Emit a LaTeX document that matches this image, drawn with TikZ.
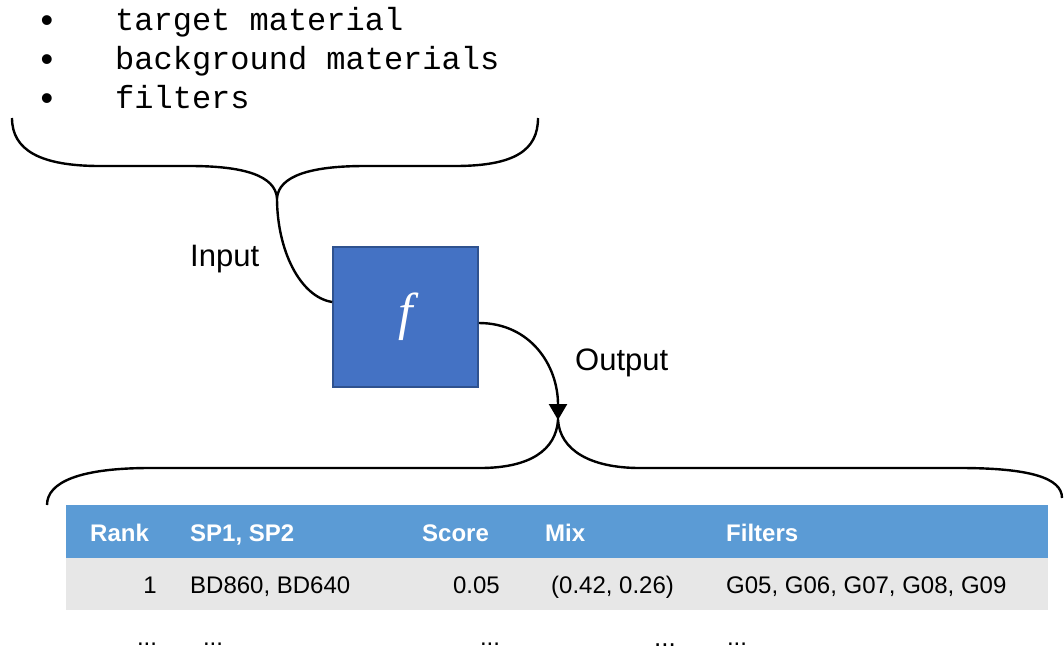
\documentclass[tikz,border=0pt]{standalone}
\usepackage{fontspec}
\setmainfont{Liberation Sans}
\newfontfamily\codefont{Liberation Mono}
\newfontfamily\funcfont{Liberation Serif}
\usetikzlibrary{arrows.meta}
\definecolor{funcfill}{HTML}{4472C4}
\definecolor{funcedge}{HTML}{2F528F}
\definecolor{headblue}{HTML}{5B9BD5}
\definecolor{rowgray}{HTML}{E7E7E7}
\begin{document}
\begin{tikzpicture}[x=1pt,y=-1pt,
  codeline/.style={font=\codefont\fontsize{32}{38}\selectfont, anchor=base west, inner sep=0},
  bullet/.style={font=\fontsize{36}{40}\selectfont, anchor=base, inner sep=0},
  lbl/.style={font=\fontsize{31}{36}\selectfont, anchor=base west, inner sep=0},
  headcell/.style={font=\bfseries\fontsize{24}{28}\selectfont, text=white, anchor=base west, inner sep=0},
  cell/.style={font=\fontsize{24}{28}\selectfont, anchor=base west, inner sep=0},
  cellr/.style={cell, anchor=base east},
  dots/.style={font=\fontsize{24}{28}\selectfont, anchor=base, inner sep=0},
  curve/.style={line width=2.4pt, black},
  funcbox/.style={fill=funcfill, draw=funcedge, line width=1.6pt, minimum width=145pt,
    minimum height=140pt, inner sep=0, text=white, font=\funcfont\itshape\fontsize{52}{56}\selectfont}]
\useasboundingbox (0,0) rectangle (1064,651);

% input list
\node[bullet] (b1) at (47,32) {•};
\node[bullet] (b2) at (47,71) {•};
\node[bullet] (b3) at (47,110) {•};
\node[codeline] (l1) at (115,30) {target material};
\node[codeline] (l2) at (115,69) {background materials};
\node[codeline] (l3) at (115,108) {filters};

% upper brace
\coordinate (tipA) at (277,198);
\draw[curve] (12,118) .. controls (12,150) and (40,166) .. (100,166) -- (190,166)
  .. controls (245,166) and (275,176) .. (tipA)
  .. controls (279,176) and (310,166) .. (365,166) -- (455,166)
  .. controls (515,166) and (538,150) .. (538,118);

% function block
\node[funcbox] (f) at (405.5,317) {f};

\node[lbl] (inlbl) at (190,266) {Input};
\node[lbl] (outlbl) at (575,370) {Output};

\draw[curve] (tipA) .. controls (277,250) and (300,297) .. ([yshift=15pt]f.west);
\coordinate (tipB) at (558,420);
\draw[curve, -{Triangle[width=18pt,length=16pt]}] ([yshift=-6pt]f.east)
  .. controls (530,323) and (558,365) .. (tipB);

% lower brace
\draw[curve] (47,505) .. controls (47,482) and (80,468) .. (150,468) -- (480,468)
  .. controls (530,468) and (556,450) .. (tipB)
  .. controls (560,450) and (590,468) .. (640,468) -- (960,468)
  .. controls (1030,468) and (1062,478) .. (1062,498);

% result table
\fill[headblue] (66,505) rectangle (1048,558);
\fill[rowgray] (66,558) rectangle (1048,610);

\node[headcell] (h1) at (90,541) {Rank};
\node[headcell] (h2) at (190,541) {SP1, SP2};
\node[headcell] (h3) at (422,541) {Score};
\node[headcell] (h4) at (545,541) {Mix};
\node[headcell] (h5) at (726,541) {Filters};

\node[cellr] (r1) at (157,593) {1};
\node[cell] (r2) at (190,593) {BD860, BD640};
\node[cellr] (r3) at (500,593) {0.05};
\node[cell] (r4) at (551,593) {(0.42, 0.26)};
\node[cell] (r5) at (726,593) {G05, G06, G07, G08, G09};

\node[dots] (d1) at (147,645) {...};
\node[dots] (d2) at (213,645) {...};
\node[dots] (d3) at (490,645) {...};
\node[dots, font=\fontsize{26}{30}\selectfont] (d4) at (665,646) {...};
\node[dots] (d5) at (737,645) {...};
\end{tikzpicture}
\end{document}
